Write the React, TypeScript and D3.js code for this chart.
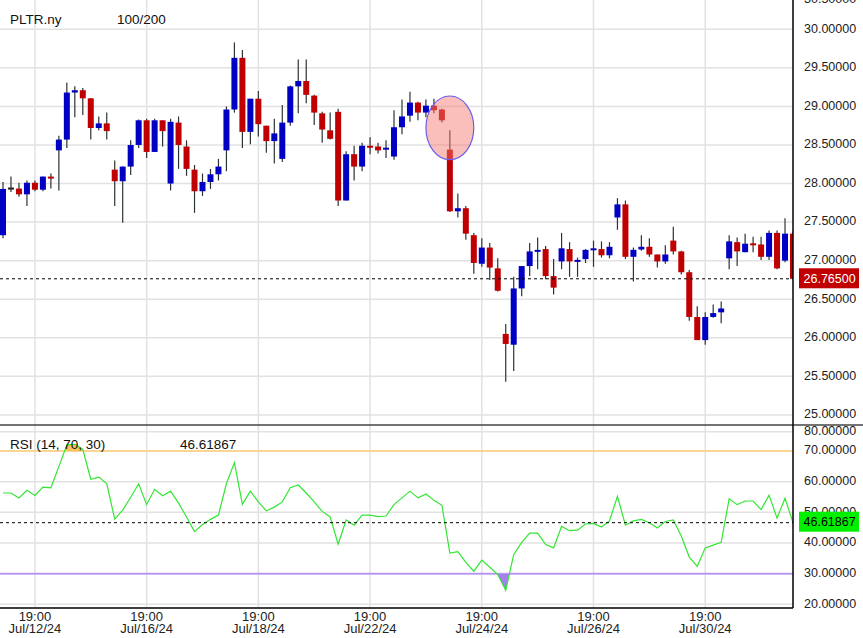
import React from "react";
import * as d3 from "d3";

// ---------- DATA ----------
const symbol = "PLTR.ny";
const barCountLabel = "100/200";
const rsiLabel = "RSI (14, 70, 30)";
const days = ["Jul/12/24","Jul/15/24","Jul/16/24","Jul/17/24","Jul/18/24","Jul/19/24","Jul/22/24","Jul/23/24","Jul/24/24","Jul/25/24","Jul/26/24","Jul/29/24","Jul/30/24","Jul/31/24","Aug/01/24"];
const hours = [15, 16, 17, 18, 19, 20, 21];

const opens = [27.33,27.935,27.935,27.86,28.01,27.92,28.09,28.43,28.57,29.18,29.21,29.105,28.72,28.78,28.18,28.03,28.22,28.50,28.82,28.41,28.82,28.00,28.79,28.48,28.18,27.90,28.02,28.12,28.43,28.96,29.63,28.67,29.10,28.75,28.55,28.32,28.79,29.26,29.33,29.14,28.91,28.69,28.93,27.78,28.38,28.22,28.49,28.48,28.445,28.35,28.73,28.88,29.05,28.92,29.01,28.96,28.44,27.64,27.68,27.33,26.96,27.17,26.90,26.05,25.91,26.64,26.93,27.13,27.15,26.80,26.99,27.15,27.00,27.02,27.145,27.15,27.07,27.56,27.73,27.05,27.145,27.18,27.08,26.99,27.26,27.12,26.85,26.27,25.97,26.27,26.33,27.03,27.24,27.11,27.225,27.21,27.05,27.36,27.00,27.35];
const highs = [28.02,28.09,28.01,28.04,28.04,28.09,28.13,28.62,29.31,29.26,29.24,29.11,28.87,28.92,28.30,28.22,28.56,28.83,28.84,28.84,28.82,28.84,28.87,28.56,28.24,28.13,28.19,28.32,29.00,29.83,29.73,29.10,29.20,28.75,28.84,29.02,29.27,29.61,29.61,29.15,28.93,28.92,28.97,28.42,28.49,28.53,28.60,28.53,28.56,28.95,29.09,29.19,29.06,29.09,29.10,28.97,28.69,27.87,27.71,27.36,27.29,27.23,27.03,26.18,26.79,26.93,27.23,27.30,27.19,27.02,27.36,27.24,27.04,27.15,27.26,27.25,27.24,27.81,27.78,27.17,27.33,27.29,27.08,27.20,27.44,27.13,26.88,26.41,26.33,26.43,26.47,27.33,27.30,27.35,27.31,27.31,27.39,27.39,27.55,27.38];
const lows = [27.29,27.89,27.83,27.71,27.90,27.90,27.935,27.91,28.46,28.86,28.89,28.57,28.69,28.57,27.71,27.49,28.11,28.46,28.33,28.41,28.48,27.91,28.19,28.10,27.62,27.84,27.93,28.04,28.16,28.92,28.46,28.51,28.61,28.40,28.26,28.28,28.75,28.91,29.04,28.76,28.53,28.57,27.71,27.78,28.04,28.16,28.38,28.39,28.33,28.31,28.64,28.80,28.82,28.86,28.91,28.79,27.63,27.56,27.27,26.83,26.92,26.75,26.60,25.43,25.57,26.54,26.80,26.89,26.76,26.56,26.89,26.79,26.79,26.97,26.92,27.04,27.03,27.40,27.02,26.73,27.13,27.05,26.91,26.96,27.08,26.82,26.22,25.97,25.91,26.26,26.19,26.89,26.93,27.11,27.11,27.01,27.01,26.89,26.98,26.765];
const closes = [27.93,27.935,27.86,28.01,27.92,28.09,28.065,28.57,29.18,29.21,29.105,28.72,28.78,28.68,28.03,28.22,28.50,28.82,28.41,28.82,28.68,28.80,28.50,28.19,27.90,28.02,28.12,28.22,28.96,29.63,28.67,29.10,28.77,28.55,28.65,28.79,29.26,29.33,29.15,28.92,28.70,28.58,27.78,28.38,28.22,28.49,28.48,28.43,28.465,28.73,28.87,29.05,28.92,29.01,28.95,28.82,27.64,27.68,27.35,26.97,27.17,26.91,26.61,25.92,26.64,26.93,27.12,27.14,26.80,26.65,27.16,26.99,27.01,27.14,27.16,27.07,27.18,27.73,27.05,27.14,27.18,27.08,26.99,27.08,27.12,26.85,26.27,25.97,26.27,26.32,26.38,27.25,27.12,27.22,27.215,27.05,27.36,26.90,27.35,26.765];
const rsiValues = [56.3,56.3,54.7,57.2,55.5,58.2,58.0,64.9,72.0,72.2,70.5,60.8,61.5,59.4,47.8,50.7,54.9,59.3,52.5,57.5,55.4,56.9,53.0,48.5,43.7,46.0,47.7,49.1,59.4,66.2,52.6,56.9,53.4,50.5,51.7,53.4,58.0,58.9,56.3,53.4,50.3,48.5,39.6,47.5,45.8,49.1,49.1,48.6,48.8,52.5,54.7,56.9,54.7,56.0,53.9,52.3,36.7,37.2,33.7,30.8,34.4,32.1,29.7,24.6,36.2,40.2,43.2,43.2,39.5,38.4,45.4,44.0,44.2,46.2,46.4,45.2,47.2,55.2,45.8,47.2,47.7,46.6,44.9,47.0,47.5,42.3,35.4,32.4,38.4,39.3,40.2,54.4,52.5,53.7,53.7,50.9,55.6,48.1,54.6,46.61867];
const lastPrice = 26.765;
const lastRsi = 46.61867;
const priceTicks = [25, 25.5, 26, 26.5, 27, 27.5, 28, 28.5, 29, 29.5, 30, 30.5];
const rsiTicks = [20, 30, 40, 50, 60, 70, 80];
const rsiUpper = 70;
const rsiLower = 30;
// highlighted region (bar range, price range)
const markBars = [53, 59];
const markPrices = [28.31, 29.135];

// ---------- LAYOUT ----------
const W = 863, H = 638;
const PLOT_R = 793;
const PRICE_BOTTOM = 425;
const RSI_BOTTOM = 608;
const FONT = "'Liberation Sans', Arial, sans-serif";

const BLUE = "#0000c4";
const RED = "#c00000";
const WICK = "#2b3434";
const GRID = "#e2e2e2";

export default function App() {
  const x = d3.scaleLinear().domain([0, 99]).range([3, PLOT_R]);
  const y = d3.scaleLinear().domain([25, 30]).range([414.9, 29.3]);
  const ry = d3.scaleLinear().domain([20, 70]).range([604.3, 451]);
  const fmt = d3.format(".5f");

  const bars = opens.map((o, i) => ({
    i, o, h: highs[i], l: lows[i], c: closes[i],
    day: days[Math.floor(i / hours.length)],
    dayIdx: Math.floor(i / hours.length),
    hour: hours[i % hours.length],
  }));
  const xTicks = bars.filter(b => b.hour === 19 && b.dayIdx % 2 === 0);

  const rsiLine = d3.line<number>().x((_, i) => x(i)).y(v => ry(v));
  const areaUp = d3.area<number>().x((_, i) => x(i)).y0(ry(rsiUpper)).y1(v => ry(v));
  const areaDn = d3.area<number>().x((_, i) => x(i)).y0(ry(rsiLower)).y1(v => ry(v));

  const bodyW = 6;
  const rsiTickY = (t: number) => Math.max(ry(t), PRICE_BOTTOM + 6.7);
  const priceLabelY = (t: number) => Math.max(y(t) - 1, -1);

  return (
    <svg width={W} height={H} style={{ position: "absolute", left: 0, top: 0, background: "#fff" }} fontFamily={FONT}>
      <defs>
        <clipPath id="pclip"><rect x={0} y={0} width={PLOT_R} height={PRICE_BOTTOM} /></clipPath>
        <clipPath id="rclip"><rect x={0} y={PRICE_BOTTOM} width={PLOT_R} height={RSI_BOTTOM - PRICE_BOTTOM} /></clipPath>
        <clipPath id="upclip"><rect x={0} y={PRICE_BOTTOM} width={PLOT_R} height={ry(rsiUpper) - PRICE_BOTTOM} /></clipPath>
        <clipPath id="dnclip"><rect x={0} y={ry(rsiLower)} width={PLOT_R} height={RSI_BOTTOM - ry(rsiLower)} /></clipPath>
      </defs>
      <rect x={0} y={0} width={W} height={H} fill="#fff" />

      {/* vertical grid */}
      {xTicks.map(b => (
        <line key={"vg" + b.i} x1={x(b.i)} x2={x(b.i)} y1={0} y2={RSI_BOTTOM} stroke={GRID} strokeWidth={1.5} />
      ))}
      {/* price grid */}
      <g clipPath="url(#pclip)">
        {priceTicks.map(t => (
          <line key={"pg" + t} x1={0} x2={PLOT_R} y1={y(t)} y2={y(t)} stroke={GRID} strokeWidth={1.5} />
        ))}
      </g>
      {/* rsi grid */}
      {rsiTicks.filter(t => t !== rsiUpper && t !== rsiLower).map(t => (
        <line key={"rg" + t} x1={0} x2={PLOT_R} y1={rsiTickY(t)} y2={rsiTickY(t)} stroke={GRID} strokeWidth={1.5} />
      ))}

      {/* candles */}
      <g clipPath="url(#pclip)">
        {bars.map(b => {
          const cx = x(b.i);
          const up = b.c > b.o;
          const eq = b.c === b.o;
          const top = y(Math.max(b.o, b.c));
          const bot = y(Math.min(b.o, b.c));
          const hgt = Math.max(bot - top, 2);
          const col = eq ? "#222" : up ? BLUE : RED;
          return (
            <g key={"c" + b.i}>
              <line x1={cx} x2={cx} y1={y(b.h)} y2={y(b.l)} stroke={WICK} strokeWidth={1.2} />
              <rect x={cx - bodyW / 2} y={eq ? top - 1 : top} width={bodyW} height={hgt} fill={col} />
            </g>
          );
        })}
        {/* highlight ellipse */}
        <ellipse
          cx={(x(markBars[0]) + x(markBars[1])) / 2}
          cy={(y(markPrices[0]) + y(markPrices[1])) / 2}
          rx={(x(markBars[1]) - x(markBars[0])) / 2}
          ry={(y(markPrices[0]) - y(markPrices[1])) / 2}
          fill="#f47a6e" fillOpacity={0.48} stroke="#6a5cf0" strokeWidth={1.2}
        />
        {/* last price dashed */}
        <line x1={0} x2={PLOT_R} y1={y(lastPrice)} y2={y(lastPrice)} stroke="#000" strokeDasharray="3,3" strokeWidth={1} />
      </g>

      {/* RSI */}
      <line x1={0} x2={PLOT_R} y1={ry(rsiUpper)} y2={ry(rsiUpper)} stroke="#fbd592" strokeWidth={2} />
      <line x1={0} x2={PLOT_R} y1={ry(rsiLower)} y2={ry(rsiLower)} stroke="#b99cf2" strokeWidth={2} />
      <g clipPath="url(#upclip)">
        <path d={areaUp(rsiValues) || ""} fill="#f8c260" />
      </g>
      <g clipPath="url(#dnclip)">
        <path d={areaDn(rsiValues) || ""} fill="#a77ff0" />
      </g>
      <g clipPath="url(#rclip)">
        <path d={rsiLine(rsiValues) || ""} fill="none" stroke="#33e633" strokeWidth={1.2} />
        <line x1={0} x2={PLOT_R} y1={ry(lastRsi)} y2={ry(lastRsi)} stroke="#000" strokeDasharray="3,3" strokeWidth={1} />
      </g>

      {/* frame lines */}
      <line x1={0} x2={W} y1={PRICE_BOTTOM} y2={PRICE_BOTTOM} stroke="#444" strokeWidth={1.3} />
      <line x1={PLOT_R} x2={PLOT_R} y1={0} y2={RSI_BOTTOM} stroke="#000" strokeWidth={1.5} />
      <line x1={0} x2={PLOT_R} y1={RSI_BOTTOM} y2={RSI_BOTTOM} stroke="#000" strokeWidth={1.5} />

      {/* titles */}
      <text x={10} y={24} fontSize={13.5} fill="#111">{symbol}</text>
      <text x={117} y={24} fontSize={13.5} fill="#111">{barCountLabel}</text>
      <text x={10} y={449} fontSize={13.5} fill="#111">{rsiLabel}</text>
      <text x={180} y={449} fontSize={13.5} fill="#111">{fmt(lastRsi).replace(/0+$/, "")}</text>

      {/* price axis labels */}
      {priceTicks.map(t => (
        <text key={"pl" + t} x={804} y={priceLabelY(t)} dy="0.35em" fontSize={12.5} fill="#222">{fmt(t)}</text>
      ))}
      <rect x={799} y={y(lastPrice) - 10.5} width={60} height={20} fill={RED} />
      <text x={803.5} y={y(lastPrice) - 0.5} dy="0.35em" fontSize={12.5} fill="#fff">{fmt(lastPrice)}</text>

      {/* rsi axis labels */}
      {rsiTicks.map(t => (
        <text key={"rl" + t} x={804} y={rsiTickY(t) - 1} dy="0.35em" fontSize={12.5} fill="#222">{fmt(t)}</text>
      ))}
      <rect x={799} y={ry(lastRsi) - 11} width={60} height={20} fill="#00f000" />
      <text x={803.5} y={ry(lastRsi) - 1} dy="0.35em" fontSize={12.5} fill="#000">{fmt(lastRsi)}</text>

      {/* x axis labels */}
      {xTicks.map(b => (
        <g key={"xl" + b.i}>
          <text x={x(b.i)} y={620.7} textAnchor="middle" fontSize={13} fill="#222">{`${b.hour}:00`}</text>
          <text x={x(b.i)} y={633.3} textAnchor="middle" fontSize={13} fill="#222">{b.day}</text>
        </g>
      ))}
    </svg>
  );
}
